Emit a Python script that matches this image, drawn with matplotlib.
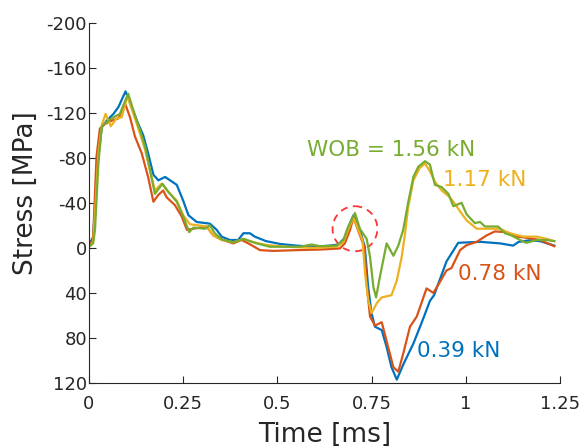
import matplotlib.pyplot as plt
from matplotlib.patches import Ellipse

plt.rcParams['axes.unicode_minus'] = False
plt.rcParams['font.family'] = 'DejaVu Sans'

# stress traces for each weight on bit (time in ms, stress in MPa)
t_039 = [0, 0.011, 0.023, 0.034, 0.047, 0.065, 0.078, 0.097, 0.113, 0.131, 0.144, 0.157,
         0.171, 0.184, 0.202, 0.233, 0.25, 0.264, 0.286, 0.321, 0.339, 0.352, 0.374, 0.396,
         0.41, 0.427, 0.44, 0.47, 0.507, 0.551, 0.595, 0.64, 0.662, 0.679, 0.693, 0.702,
         0.719, 0.732, 0.741, 0.75, 0.759, 0.777, 0.79, 0.803, 0.817, 0.835, 0.861, 0.887,
         0.905, 0.916, 0.949, 0.98, 1.038, 1.091, 1.126, 1.14, 1.17, 1.197, 1.235]
s_039 = [-2, -10, -75, -107, -113, -119, -125, -139, -125, -110, -100, -84,
         -65, -60, -63, -56, -42, -29, -23, -21.5, -16, -10, -7, -7,
         -13, -13, -10, -6, -3.5, -2, -1, -2, -3, -9, -22, -29,
         -16, -1, 35, 58, 70, 73, 88, 106, 117, 103, 85, 63,
         47, 42, 12, -4.5, -5.4, -4, -2, -5.3, -6.8, -6, -2]

t_078 = [0, 0.011, 0.02, 0.029, 0.042, 0.06, 0.078, 0.096, 0.109, 0.122, 0.14, 0.157,
         0.171, 0.184, 0.197, 0.206, 0.228, 0.246, 0.26, 0.277, 0.312, 0.33, 0.356, 0.383,
         0.405, 0.423, 0.454, 0.489, 0.551, 0.613, 0.666, 0.679, 0.693, 0.702, 0.717, 0.731,
         0.737, 0.746, 0.759, 0.777, 0.794, 0.808, 0.821, 0.834, 0.852, 0.87, 0.896, 0.914,
         0.932, 0.949, 0.962, 0.985, 1.002, 1.029, 1.055, 1.077, 1.108, 1.135, 1.161, 1.197,
         1.235]
s_078 = [-2, -8, -81, -106, -110, -113, -115, -128, -116, -99, -84, -63,
         -41, -47, -51, -45, -38, -28, -16, -17, -19, -11, -7, -4,
         -7, -4, 2, 2.7, 2, 1.5, 0.5, -4, -16, -27, -13, -1,
         32, 61, 69, 66, 88, 106, 110, 94, 70, 61, 36, 40,
         30, 20, 18, 2, -2.4, -5.3, -11, -14.6, -14, -10, -9, -7,
         -1.5]

t_117 = [0, 0.011, 0.016, 0.025, 0.034, 0.044, 0.058, 0.073, 0.087, 0.102, 0.118, 0.135,
         0.149, 0.162, 0.175, 0.193, 0.21, 0.233, 0.25, 0.268, 0.29, 0.312, 0.33, 0.352,
         0.383, 0.41, 0.436, 0.472, 0.525, 0.595, 0.657, 0.675, 0.688, 0.702, 0.715, 0.726,
         0.733, 0.741, 0.75, 0.764, 0.777, 0.803, 0.817, 0.83, 0.839, 0.847, 0.861, 0.878,
         0.892, 0.905, 0.918, 0.936, 0.958, 0.967, 1.002, 1.029, 1.064, 1.091, 1.117, 1.153,
         1.188, 1.215, 1.235]
s_117 = [-1, -5, -30, -84, -109, -119, -108, -115, -116, -135, -119, -102,
         -87, -69, -51, -57, -50, -42, -29, -21, -20, -19, -11, -7,
         -5, -8, -5, -2.5, -1, 0, -1, -5, -16, -27, -16, -7,
         23, 46, 58, 49, 44, 42, 29, 8, -13, -36, -60, -71,
         -75, -68, -59, -51, -45, -41, -24.5, -17, -17, -17, -13, -10,
         -10, -8, -6]

t_156 = [0, 0.011, 0.016, 0.025, 0.034, 0.047, 0.065, 0.082, 0.104, 0.118, 0.135, 0.149,
         0.162, 0.175, 0.195, 0.21, 0.233, 0.25, 0.266, 0.277, 0.308, 0.321, 0.334, 0.352,
         0.383, 0.41, 0.445, 0.48, 0.56, 0.591, 0.613, 0.657, 0.675, 0.688, 0.706, 0.719,
         0.737, 0.746, 0.755, 0.762, 0.772, 0.79, 0.808, 0.821, 0.834, 0.847, 0.861, 0.874,
         0.892, 0.905, 0.918, 0.936, 0.954, 0.967, 0.989, 1.002, 1.024, 1.038, 1.051, 1.086,
         1.104, 1.122, 1.144, 1.161, 1.188, 1.215, 1.235]
s_156 = [-1, -4, -16, -75, -108, -112, -116, -119, -137, -122, -105, -90,
         -69, -48, -57, -50, -41, -28, -14, -18, -17, -20, -13, -7.5,
         -5, -8, -4, -1, -1, -3, -1.5, -2, -7, -19, -31, -17,
         -8, 8, 35, 44, 26, -4, 7, -2, -16, -40, -63, -72,
         -77, -74, -56, -54, -48, -37, -40, -30, -22, -23, -19, -19,
         -13, -11, -7, -4.5, -7, -7, -6]

labels = ['0.39 kN', '0.78 kN', '1.17 kN', 'WOB = 1.56 kN']
colors = ['#0072BD', '#D95319', '#EDB120', '#77AC30']

fig = plt.figure(figsize=(5.8, 4.47), dpi=100)
ax = fig.add_axes([0.1534, 0.1432, 0.812, 0.806])

ax.plot(t_039, s_039, color=colors[0], lw=1.6)
ax.plot(t_078, s_078, color=colors[1], lw=1.6)
ax.plot(t_117, s_117, color=colors[2], lw=1.6)
ax.plot(t_156, s_156, color=colors[3], lw=1.6)

# circle around the small precursor peak
ax.add_patch(Ellipse((0.706, -17), 0.119, 40, fill=False, ec='#FF3333',
                     ls=(0, (4, 3)), lw=1.3))

ax.text(0.578, -87, labels[3], color=colors[3], fontsize=15.5, va='center')
ax.text(0.940, -60, labels[2], color=colors[2], fontsize=15.5, va='center')
ax.text(0.980, 23, labels[1], color=colors[1], fontsize=15.5, va='center')
ax.text(0.870, 92, labels[0], color=colors[0], fontsize=15.5, va='center')

ax.set_xlim(0, 1.25)
ax.set_ylim(120, -200)
ax.set_xticks([0, 0.25, 0.5, 0.75, 1, 1.25])
ax.set_xticklabels(['0', '0.25', '0.5', '0.75', '1', '1.25'])
ax.set_yticks([-200, -160, -120, -80, -40, 0, 40, 80, 120])

ax.spines['top'].set_visible(False)
ax.spines['right'].set_visible(False)
for sp in ['left', 'bottom']:
    ax.spines[sp].set_color('#262626')
    ax.spines[sp].set_linewidth(0.8)
ax.tick_params(direction='in', length=5, width=0.8, colors='#262626',
               labelsize=13)
ax.tick_params(axis='x', pad=9)
ax.tick_params(axis='y', pad=1.5)

ax.set_xlabel('Time [ms]', fontsize=19, color='#262626', labelpad=6)
ax.set_ylabel('Stress [MPa]', fontsize=19, color='#262626')
ax.yaxis.set_label_coords(-0.106, 0.526)

fig.savefig('out.png', dpi=100)
